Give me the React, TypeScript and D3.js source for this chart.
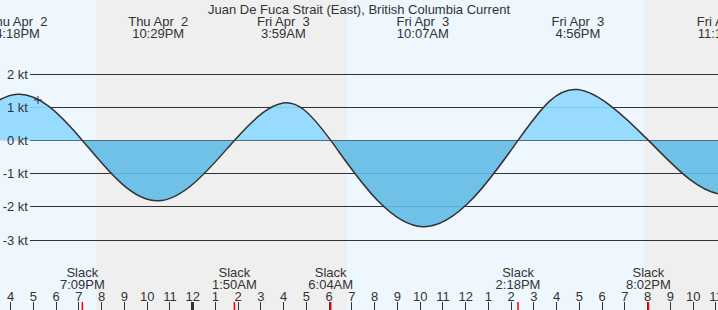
import React from "react";
import * as d3 from "d3";

const W = 718;
const H = 310;
const title = "Juan De Fuca Strait (East), British Columbia Current";

// hours since Thu Apr 2 00:00
const eventHours = [13.45, 16.3, 19.15, 22.483, 25.833, 27.983, 30.067, 34.117, 38.3, 40.933, 44.033, 47.32, 50.4];
const eventValues = [0, 1.39, 0, -1.82, 0, 1.13, 0, -2.6, 0, 1.53, 0, -1.62, 0];

const peakHours = [16.3, 22.483, 27.983, 34.117, 40.933, 47.32];
const peakDates = ["Thu Apr\u00a0 2", "Thu Apr\u00a0 2", "Fri Apr\u00a0 3", "Fri Apr\u00a0 3", "Fri Apr\u00a0 3", "Fri Apr\u00a0 3"];
const peakTimes = ["4:18PM", "10:29PM", "3:59AM", "10:07AM", "4:56PM", "11:19PM"];

const slackHours = [19.15, 25.833, 30.067, 38.3, 44.033];
const slackTimes = ["7:09PM", "1:50AM", "6:04AM", "2:18PM", "8:02PM"];

const nightStarts = [19.75, 43.84];
const nightEnds = [30.78, 60];

const yTicks = [2, 1, 0, -1, -2, -3];
const markerHour = 17.2;
const markerValue = 1.22;

const domainStart = 15.5297;
const domainEnd = 47.09;

export default function App() {
  const x = d3.scaleLinear().domain([domainStart, domainEnd]).range([0, W]);
  const y = d3.scaleLinear().domain([-3, 2]).range([240, 74]);
  const pts = eventHours.map((h, i) => [h, eventValues[i]] as [number, number]);
  const line = d3
    .line<[number, number]>()
    .x((d) => x(d[0]))
    .y((d) => y(d[1]))
    .curve(d3.curveNatural);
  const area = d3
    .area<[number, number]>()
    .x((d) => x(d[0]))
    .y0(y(0))
    .y1((d) => y(d[1]))
    .curve(d3.curveNatural);
  const y0 = y(0);
  const font = "'Liberation Sans', Arial, sans-serif";
  const txt = "#333";
  const hours = d3.range(Math.ceil(domainStart), Math.floor(domainEnd) + 1);
  const crisp = (v: number) => Math.floor(v) + 0.5;

  return (
    <svg
      width={W}
      height={H}
      style={{ position: "absolute", left: 0, top: 0, display: "block" }}
      fontFamily={font}
      fontSize={13}
    >
      <defs>
        <clipPath id="pos">
          <rect x={0} y={0} width={W} height={y0} />
        </clipPath>
        <clipPath id="neg">
          <rect x={0} y={y0} width={W} height={H - y0} />
        </clipPath>
      </defs>
      <rect x={0} y={0} width={W} height={H} fill="#eef6fe" />
      {nightStarts.map((s, i) => (
        <rect key={i} x={x(s)} y={0} width={x(nightEnds[i]) - x(s)} height={H} fill="#efefef" />
      ))}
      {yTicks.map((t) => (
        <line key={t} x1={30} x2={W} y1={crisp(y(t))} y2={crisp(y(t))} stroke="#333" strokeWidth={1} />
      ))}
      <path d={area(pts) || ""} fill="#8dd8ff" fillOpacity={0.9} clipPath="url(#pos)" />
      <path d={area(pts) || ""} fill="#62bbe5" fillOpacity={0.9} clipPath="url(#neg)" />
      <path d={line(pts) || ""} fill="none" stroke="#333" strokeWidth={1.5} />
      {yTicks.map((t) => (
        <text key={t} x={28} y={y(t) + 4.5} textAnchor="end" fill={txt}>
          {`${t} kt`}
        </text>
      ))}
      <g stroke="#333" strokeWidth={1}>
        <line x1={x(markerHour) - 4} x2={x(markerHour) + 4} y1={y(markerValue)} y2={y(markerValue)} />
        <line x1={x(markerHour)} x2={x(markerHour)} y1={y(markerValue) - 4} y2={y(markerValue) + 4} />
      </g>
      <text x={W / 2} y={14} textAnchor="middle" fill={txt}>
        {title}
      </text>
      {peakHours.map((h, i) => (
        <g key={i} fill={txt} textAnchor="middle">
          <text x={x(h)} y={26}>{peakDates[i]}</text>
          <text x={x(h)} y={38}>{peakTimes[i]}</text>
        </g>
      ))}
      {slackHours.map((h, i) => (
        <g key={i} fill={txt} textAnchor="middle">
          <text x={x(h)} y={276.5}>Slack</text>
          <text x={x(h)} y={289}>{slackTimes[i]}</text>
        </g>
      ))}
      {hours.map((h) => {
        const xx = x(h);
        const lab = h % 12 === 0 ? 12 : h % 12;
        return (
          <g key={h}>
            <text x={xx} y={301} textAnchor="middle" fill={txt}>
              {lab}
            </text>
            {h % 24 === 0 ? (
              <rect x={Math.floor(xx) - 1} y={302} width={3} height={8} fill="#333" />
            ) : (
              <line x1={crisp(xx)} x2={crisp(xx)} y1={302} y2={310} stroke="#333" strokeWidth={1} />
            )}
          </g>
        );
      })}
      {slackHours.map((h, i) => (
        <line key={i} x1={x(h)} x2={x(h)} y1={302} y2={310} stroke="#f00" strokeWidth={1.5} />
      ))}
    </svg>
  );
}
